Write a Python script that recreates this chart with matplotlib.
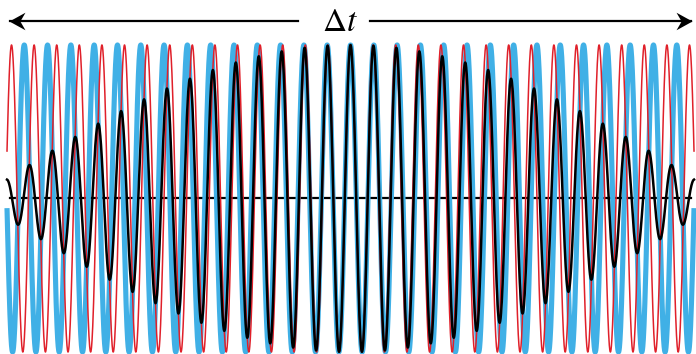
import numpy as np
import matplotlib
matplotlib.use("Agg")
import matplotlib.pyplot as plt
from matplotlib.path import Path

plt.rcParams["mathtext.fontset"] = "stix"

# wave parameters (cycles per half span)
t_span = [-1.0, 1.0]
red_cycles = 15.2
blue_cycles = 14.74
amplitude = 1.0
label = r"$\Delta t$"

t = np.linspace(t_span[0], t_span[1], 4000)
red = amplitude * np.cos(2 * np.pi * red_cycles * t)
blue = amplitude * np.cos(2 * np.pi * blue_cycles * t)
mix = (red + blue) / 2

fig = plt.figure(figsize=(6.96, 3.54), dpi=100)
ax = fig.add_axes([0, 0, 1, 1])

ax.plot([-0.99, 0.99], [0, 0], color="black", lw=1.6, zorder=0)
ax.plot(t, blue, color="#40b0e6", lw=3.7, zorder=1, solid_capstyle="butt")
ax.plot(t, red, color="#e0202a", lw=1.1, zorder=2)
ax.plot(t, mix, color="black", lw=1.8, zorder=4)

# stealth style arrow heads
head_r = Path([(0, 0), (-1, 0.55), (-0.68, 0), (-1, -0.55), (0, 0)],
              [Path.MOVETO, Path.LINETO, Path.LINETO, Path.LINETO, Path.CLOSEPOLY])
head_l = Path([(0, 0), (1, 0.55), (0.68, 0), (1, -0.55), (0, 0)],
              [Path.MOVETO, Path.LINETO, Path.LINETO, Path.LINETO, Path.CLOSEPOLY])

arrow_y = 1.156
ax.plot([-0.99, -0.153], [arrow_y, arrow_y], color="black", lw=1.6)
ax.plot([0.057, 0.99], [arrow_y, arrow_y], color="black", lw=1.6)
ax.plot([-0.995], [arrow_y], marker=head_l, markersize=23, color="black",
        markeredgewidth=0)
ax.plot([0.995], [arrow_y], marker=head_r, markersize=23, color="black",
        markeredgewidth=0)
ax.text(-0.031, 1.15, label, fontsize=24, ha="center", va="center")

ax.set_xlim(-1.0204, 1.0058)
ax.set_ylim(-1.013, 1.293)
ax.axis("off")

fig.savefig("out.png", dpi=100)
